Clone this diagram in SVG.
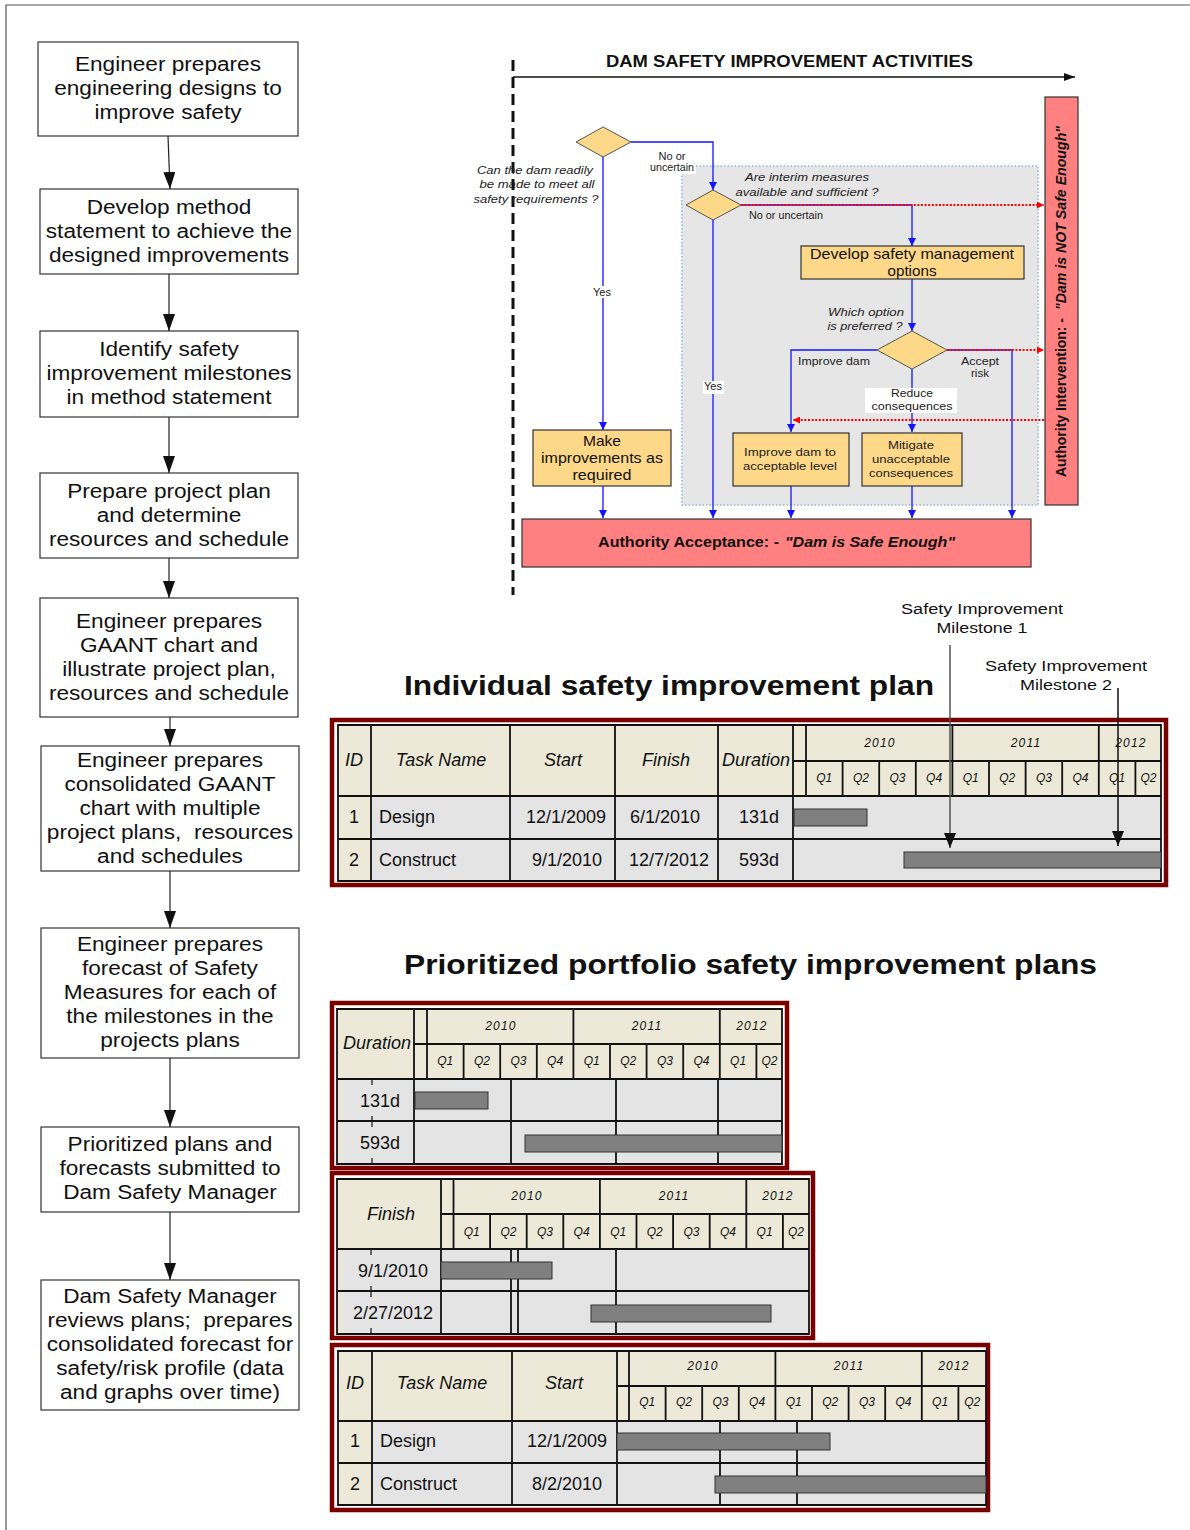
<svg xmlns="http://www.w3.org/2000/svg" width="1190" height="1530" viewBox="0 0 1190 1530">
<defs>
<style>
text { font-family: "Liberation Sans", Arial, Helvetica, sans-serif; fill: #111; }
.frame { fill: none; stroke: #555; stroke-width: 1.2; }
.step { fill: #fff; stroke: #333; stroke-width: 1.2; }
.st { font-size: 19.5px; text-anchor: middle; white-space: pre; transform-box: fill-box; transform-origin: center; transform: scaleX(1.16); }
.flow { fill: none; stroke: #222; stroke-width: 1.2; marker-end: url(#ahStep); }
.act { fill: #fdd888; stroke: #333; stroke-width: 1.2; }
.dia { fill: #fdd888; stroke: #555; stroke-width: 1; }
.auth { fill: #ff8080; stroke: #333; stroke-width: 1.2; }
.blue { fill: none; stroke: #1414ff; stroke-width: 1.3; }
.ba { marker-end: url(#ahBlue); }
.red { fill: none; stroke: #ff0000; stroke-width: 2; stroke-dasharray: 2 1.6; marker-end: url(#ahRed); }
.lbl { font-size: 10px; text-anchor: middle; fill: #222; }
.q11 { font-size: 11.5px; font-style: italic; text-anchor: middle; fill: #222; }
.bx { font-size: 14.5px; text-anchor: middle; fill: #111; }
.bs { font-size: 11.5px; text-anchor: middle; fill: #222; }
.redframe { fill: #fff; stroke: #7a0000; stroke-width: 4.5; }
.hdr { fill: #ece9d8; }
.row { fill: #e4e4e4; }
.grid { fill: none; stroke: #111; stroke-width: 1.8; }
.tick { fill: none; stroke: #111; stroke-width: 1.2; }
.bar { fill: #808080; stroke: #333; stroke-width: 1; }
.th { font-size: 18px; font-style: italic; text-anchor: middle; }
.yr { font-size: 12px; font-style: italic; text-anchor: middle; letter-spacing: 1.2px; }
.qt { font-size: 12px; font-style: italic; text-anchor: middle; }
.td { font-size: 18px; }
.tc { font-size: 18px; text-anchor: middle; }
.head { font-size: 28px; font-weight: bold; }
.mile { font-size: 15.5px; text-anchor: middle; }
</style>
<marker id="ahStep" viewBox="0 0 17 12" refX="17" refY="6" markerWidth="17" markerHeight="12" markerUnits="userSpaceOnUse" orient="auto"><path d="M0,0 L17,6 L0,12 Z" fill="#111"/></marker>
<marker id="ahBlue" viewBox="0 0 8 8" refX="8" refY="4" markerWidth="8" markerHeight="8" markerUnits="userSpaceOnUse" orient="auto"><path d="M0,0 L8,4 L0,8 Z" fill="#1414ff"/></marker>
<marker id="ahRed" viewBox="0 0 7 7" refX="7" refY="3.5" markerWidth="7" markerHeight="7" markerUnits="userSpaceOnUse" orient="auto"><path d="M0,0 L7,3.5 L0,7 Z" fill="#ff0000"/></marker>
<marker id="ahTitle" viewBox="0 0 11 8" refX="11" refY="4" markerWidth="11" markerHeight="8" markerUnits="userSpaceOnUse" orient="auto"><path d="M0,0 L11,4 L0,8 Z" fill="#111"/></marker>
<marker id="ahMile" viewBox="0 0 15 12" refX="15" refY="6" markerWidth="15" markerHeight="12" markerUnits="userSpaceOnUse" orient="auto"><path d="M0,0 L15,6 L0,12 Z" fill="#111"/></marker>
</defs>

<rect width="1190" height="1530" fill="#fff"/>
<path class="frame" d="M6,1530 V5 H1190"/>

<!-- process steps, left column -->
<g id="step1"><rect class="step" x="38" y="42" width="260" height="94"/>
<text class="st" x="168" y="71">Engineer prepares</text><text class="st" x="168" y="95">engineering designs to</text><text class="st" x="168" y="119">improve safety</text></g>
<g id="step2"><rect class="step" x="40" y="189" width="258" height="85"/>
<text class="st" x="169" y="214">Develop method</text><text class="st" x="169" y="238">statement to achieve the</text><text class="st" x="169" y="262">designed improvements</text></g>
<g id="step3"><rect class="step" x="40" y="331" width="258" height="86"/>
<text class="st" x="169" y="356">Identify safety</text><text class="st" x="169" y="380">improvement milestones</text><text class="st" x="169" y="404">in method statement</text></g>
<g id="step4"><rect class="step" x="40" y="473" width="258" height="85"/>
<text class="st" x="169" y="498">Prepare project plan</text><text class="st" x="169" y="522">and determine</text><text class="st" x="169" y="546">resources and schedule</text></g>
<g id="step5"><rect class="step" x="40" y="598" width="258" height="119"/>
<text class="st" x="169" y="628">Engineer prepares</text><text class="st" x="169" y="652">GAANT chart and</text><text class="st" x="169" y="676">illustrate project plan,</text><text class="st" x="169" y="700">resources and schedule</text></g>
<g id="step6"><rect class="step" x="41" y="746" width="258" height="125"/>
<text class="st" x="170" y="767">Engineer prepares</text><text class="st" x="170" y="791">consolidated GAANT</text><text class="st" x="170" y="815">chart with multiple</text><text class="st" x="170" y="839">project plans,  resources</text><text class="st" x="170" y="863">and schedules</text></g>
<g id="step7"><rect class="step" x="41" y="928" width="258" height="130"/>
<text class="st" x="170" y="951">Engineer prepares</text><text class="st" x="170" y="975">forecast of Safety</text><text class="st" x="170" y="999">Measures for each of</text><text class="st" x="170" y="1023">the milestones in the</text><text class="st" x="170" y="1047">projects plans</text></g>
<g id="step8"><rect class="step" x="41" y="1127" width="258" height="85"/>
<text class="st" x="170" y="1151">Prioritized plans and</text><text class="st" x="170" y="1175">forecasts submitted to</text><text class="st" x="170" y="1199">Dam Safety Manager</text></g>
<g id="step9"><rect class="step" x="41" y="1280" width="258" height="130"/>
<text class="st" x="170" y="1303">Dam Safety Manager</text><text class="st" x="170" y="1327">reviews plans;  prepares</text><text class="st" x="170" y="1351">consolidated forecast for</text><text class="st" x="170" y="1375">safety/risk profile (data</text><text class="st" x="170" y="1399">and graphs over time)</text></g>

<g id="step-connectors">
<path class="flow" d="M168,136 L170,189"/>
<path class="flow" d="M169,274 V331"/>
<path class="flow" d="M169,417 V473"/>
<path class="flow" d="M169,558 V598"/>
<path class="flow" d="M170,717 V746"/>
<path class="flow" d="M170,871 V928"/>
<path class="flow" d="M170,1058 V1127"/>
<path class="flow" d="M170,1212 V1280"/>
</g>

<!-- dam safety improvement activities -->
<g id="activities-axis">
<line x1="513" y1="60" x2="513" y2="595" stroke="#111" stroke-width="3" stroke-dasharray="11 6"/>
<text x="606" y="67" font-size="16" font-weight="bold" textLength="367" lengthAdjust="spacingAndGlyphs">DAM SAFETY IMPROVEMENT ACTIVITIES</text>
<line x1="513" y1="77" x2="1075" y2="77" stroke="#111" stroke-width="1.5" marker-end="url(#ahTitle)"/>
</g>

<rect id="interim-zone" x="682" y="166" width="356" height="339" fill="#e6e6e6" stroke="#a9c3e6" stroke-width="2" stroke-dasharray="1.5 2"/>

<g id="q-readily"><polygon class="dia" points="603,127 631,142 603,157 576,142"/>
<text class="q11" x="535" y="174" textLength="116" lengthAdjust="spacingAndGlyphs">Can the dam readily</text>
<text class="q11" x="537" y="188" textLength="115" lengthAdjust="spacingAndGlyphs">be made to meet all</text>
<text class="q11" x="536" y="203" textLength="125" lengthAdjust="spacingAndGlyphs">safety requirements ?</text></g>

<g id="q-interim"><polygon class="dia" points="713,190 741,205 713,220 686,205"/>
<text class="q11" x="807" y="181" textLength="124" lengthAdjust="spacingAndGlyphs">Are interim measures</text>
<text class="q11" x="807" y="196" textLength="143" lengthAdjust="spacingAndGlyphs">available and sufficient ?</text></g>

<g id="develop-options"><rect class="act" x="801" y="246" width="223" height="33"/>
<text class="bx" x="912" y="259" textLength="204" lengthAdjust="spacingAndGlyphs">Develop safety management</text>
<text class="bx" x="912" y="276" textLength="49" lengthAdjust="spacingAndGlyphs">options</text></g>

<g id="q-option"><polygon class="dia" points="912,331 947,350 912,369 877,350"/>
<text class="q11" x="866" y="316" textLength="76" lengthAdjust="spacingAndGlyphs">Which option</text>
<text class="q11" x="865" y="330" textLength="75" lengthAdjust="spacingAndGlyphs">is preferred ?</text></g>

<g id="make-improvements"><rect class="act" x="533" y="430" width="138" height="56"/>
<text class="bx" x="602" y="446" textLength="38" lengthAdjust="spacingAndGlyphs">Make</text>
<text class="bx" x="602" y="463" textLength="122" lengthAdjust="spacingAndGlyphs">improvements as</text>
<text class="bx" x="602" y="480" textLength="59" lengthAdjust="spacingAndGlyphs">required</text></g>

<g id="improve-dam"><rect class="act" x="733" y="433" width="116" height="53"/>
<text class="bs" x="790" y="456" textLength="92" lengthAdjust="spacingAndGlyphs">Improve dam to</text>
<text class="bs" x="790" y="470" textLength="94" lengthAdjust="spacingAndGlyphs">acceptable level</text></g>

<g id="mitigate"><rect class="act" x="862" y="433" width="100" height="53"/>
<text class="bs" x="911" y="449" textLength="46" lengthAdjust="spacingAndGlyphs">Mitigate</text>
<text class="bs" x="911" y="463" textLength="78" lengthAdjust="spacingAndGlyphs">unacceptable</text>
<text class="bs" x="911" y="477" textLength="84" lengthAdjust="spacingAndGlyphs">consequences</text></g>

<g id="authority-acceptance"><rect class="auth" x="522" y="519" width="509" height="48"/>
<text x="598" y="547" font-size="14.5" font-weight="bold" textLength="181" lengthAdjust="spacingAndGlyphs">Authority Acceptance: -</text>
<text x="785" y="547" font-size="14.5" font-weight="bold" font-style="italic" textLength="170" lengthAdjust="spacingAndGlyphs">"Dam is Safe Enough"</text></g>

<g id="authority-intervention"><rect class="auth" x="1045" y="97" width="33" height="408"/>
<text transform="translate(1066,477) rotate(-90)" font-size="14.5" font-weight="bold" textLength="159" lengthAdjust="spacingAndGlyphs">Authority Intervention: -</text>
<text transform="translate(1066,310) rotate(-90)" font-size="14.5" font-weight="bold" font-style="italic" textLength="184" lengthAdjust="spacingAndGlyphs">"Dam is NOT Safe Enough"</text></g>

<g id="activity-connectors">
<path class="blue ba" d="M631,142 H713 V190"/>
<path class="blue ba" d="M603,157 V430"/>
<path class="blue ba" d="M603,486 V518"/>
<path class="blue ba" d="M713,220 V518"/>
<path class="blue ba" d="M741,205 H912 V246"/>
<path class="blue ba" d="M912,279 V331"/>
<path class="blue ba" d="M877,350 H791 V432"/>
<path class="blue ba" d="M912,369 V432"/>
<path class="blue ba" d="M947,350 H1012 V518"/>
<path class="blue ba" d="M791,486 V518"/>
<path class="blue ba" d="M912,486 V518"/>
<path class="red" d="M741,205 H1044"/>
<path class="red" d="M947,350 H1044"/>
<path class="red" d="M1044,420 H793"/>
<rect x="648" y="163" width="48" height="11" fill="#fff"/>
<text class="lbl" x="672" y="160" textLength="27" lengthAdjust="spacingAndGlyphs">No or</text>
<text class="lbl" x="672" y="171" textLength="44" lengthAdjust="spacingAndGlyphs">uncertain</text>
<rect x="592" y="286" width="21" height="12" fill="#fff"/>
<text class="lbl" x="602" y="296" textLength="18" lengthAdjust="spacingAndGlyphs">Yes</text>
<text class="lbl" x="786" y="219" textLength="74" lengthAdjust="spacingAndGlyphs">No or uncertain</text>
<rect x="703" y="381" width="21" height="13" fill="#fff"/>
<text class="lbl" x="713" y="390" textLength="18" lengthAdjust="spacingAndGlyphs">Yes</text>
<text class="lbl" x="834" y="365" font-size="11" textLength="72" lengthAdjust="spacingAndGlyphs">Improve dam</text>
<text class="lbl" x="980" y="365" font-size="11" textLength="38" lengthAdjust="spacingAndGlyphs">Accept</text>
<text class="lbl" x="980" y="377" font-size="11" textLength="18" lengthAdjust="spacingAndGlyphs">risk</text>
<rect x="865" y="388" width="92" height="25" fill="#fff"/>
<text class="lbl" x="912" y="397" font-size="11" textLength="42" lengthAdjust="spacingAndGlyphs">Reduce</text>
<text class="lbl" x="912" y="410" font-size="11" textLength="81" lengthAdjust="spacingAndGlyphs">consequences</text>
</g>

<!-- individual plan -->
<text class="head" x="404" y="695" textLength="530" lengthAdjust="spacingAndGlyphs">Individual safety improvement plan</text>

<g id="plan-single">
<rect class="redframe" x="332" y="720" width="834" height="165"/>
<rect class="hdr" x="338" y="725" width="823" height="71"/>
<rect class="row" x="338" y="796" width="823" height="85"/>
<rect class="hdr" x="338" y="796" width="33" height="85"/>
<path class="grid" d="M338,725 H1161 V881 H338 Z M338,796 H1161 M338,839 H1161 M793,761 H1161 M371,725 V881 M510,725 V881 M615,725 V881 M718,725 V881 M793,725 V881 M806,725 V796 M952.4,725 V796 M1098.8,725 V796 M842.6,761 V796 M879.2,761 V796 M915.8,761 V796 M989,761 V796 M1025.6,761 V796 M1062.2,761 V796 M1135.4,761 V796"/>
<rect class="bar" x="794" y="809" width="73" height="17"/>
<rect class="bar" x="904" y="852" width="257" height="16"/>
<text class="th" x="354" y="766">ID</text>
<text class="th" x="441" y="766">Task Name</text>
<text class="th" x="563" y="766">Start</text>
<text class="th" x="666" y="766">Finish</text>
<text class="th" x="756" y="766">Duration</text>
<text class="yr" x="880" y="747">2010</text>
<text class="yr" x="1026" y="747">2011</text>
<text class="yr" x="1131" y="747">2012</text>
<text class="qt" x="824.3" y="782">Q1</text><text class="qt" x="860.9" y="782">Q2</text><text class="qt" x="897.5" y="782">Q3</text><text class="qt" x="934.1" y="782">Q4</text>
<text class="qt" x="970.7" y="782">Q1</text><text class="qt" x="1007.3" y="782">Q2</text><text class="qt" x="1043.9" y="782">Q3</text><text class="qt" x="1080.5" y="782">Q4</text>
<text class="qt" x="1117.1" y="782">Q1</text><text class="qt" x="1148.5" y="782">Q2</text>
<text class="tc" x="354" y="823">1</text>
<text class="td" x="379" y="823">Design</text>
<text class="tc" x="566" y="823">12/1/2009</text>
<text class="tc" x="665" y="823">6/1/2010</text>
<text class="tc" x="759" y="823">131d</text>
<text class="tc" x="354" y="866">2</text>
<text class="td" x="379" y="866">Construct</text>
<text class="tc" x="567" y="866">9/1/2010</text>
<text class="tc" x="669" y="866">12/7/2012</text>
<text class="tc" x="759" y="866">593d</text>
</g>

<g id="milestones">
<text class="mile" x="982" y="614" textLength="162" lengthAdjust="spacingAndGlyphs">Safety Improvement</text>
<text class="mile" x="982" y="633" textLength="91" lengthAdjust="spacingAndGlyphs">Milestone 1</text>
<text class="mile" x="1066" y="671" textLength="162" lengthAdjust="spacingAndGlyphs">Safety Improvement</text>
<text class="mile" x="1066" y="690" textLength="92" lengthAdjust="spacingAndGlyphs">Milestone 2</text>
<line x1="950" y1="645" x2="950" y2="848" stroke="#555" stroke-width="1.5" marker-end="url(#ahMile)"/>
<line x1="1118" y1="688" x2="1118" y2="846" stroke="#111" stroke-width="1.5" marker-end="url(#ahMile)"/>
</g>

<!-- prioritized portfolio -->
<text class="head" x="404" y="974" textLength="693" lengthAdjust="spacingAndGlyphs">Prioritized portfolio safety improvement plans</text>

<g id="portfolio-duration">
<rect class="redframe" x="332" y="1003" width="455" height="165"/>
<rect class="hdr" x="337" y="1009" width="445" height="70"/>
<rect class="row" x="337" y="1079" width="445" height="85"/>
<rect class="hdr" x="338" y="1079" width="6" height="85" opacity="0.6"/>
<path class="grid" d="M337,1009 H782 V1164 H337 Z M414,1044 H782 M337,1079 H782 M337,1121 H782 M414,1009 V1164 M427,1009 V1079 M573.4,1009 V1079 M719.8,1009 V1079 M463.6,1044 V1079 M500.2,1044 V1079 M536.8,1044 V1079 M610,1044 V1079 M646.6,1044 V1079 M683.2,1044 V1079 M756.4,1044 V1079 M511,1079 V1164 M616,1079 V1164 M718,1079 V1164"/>
<path class="tick" d="M372,1079 V1085 M372,1116 V1127 M372,1158 V1164"/>
<rect class="bar" x="415" y="1092" width="73" height="17"/>
<rect class="bar" x="525" y="1135" width="257" height="17"/>
<text class="th" x="377" y="1049">Duration</text>
<text class="yr" x="501" y="1030">2010</text>
<text class="yr" x="647" y="1030">2011</text>
<text class="yr" x="752" y="1030">2012</text>
<text class="qt" x="445.3" y="1065">Q1</text><text class="qt" x="481.9" y="1065">Q2</text><text class="qt" x="518.5" y="1065">Q3</text><text class="qt" x="555.1" y="1065">Q4</text>
<text class="qt" x="591.7" y="1065">Q1</text><text class="qt" x="628.3" y="1065">Q2</text><text class="qt" x="664.9" y="1065">Q3</text><text class="qt" x="701.5" y="1065">Q4</text>
<text class="qt" x="738.1" y="1065">Q1</text><text class="qt" x="769.5" y="1065">Q2</text>
<text class="tc" x="380" y="1107">131d</text>
<text class="tc" x="380" y="1149">593d</text>
</g>

<g id="portfolio-finish">
<rect class="redframe" x="332" y="1173" width="481" height="165"/>
<rect class="hdr" x="337" y="1179" width="472" height="70"/>
<rect class="row" x="337" y="1249" width="472" height="85"/>
<rect class="hdr" x="338" y="1249" width="6" height="85" opacity="0.6"/>
<path class="grid" d="M337,1179 H809 V1334 H337 Z M441,1214 H809 M337,1249 H809 M337,1291 H809 M441,1179 V1334 M453.5,1179 V1249 M599.9,1179 V1249 M746.3,1179 V1249 M490.1,1214 V1249 M526.7,1214 V1249 M563.3,1214 V1249 M636.5,1214 V1249 M673.1,1214 V1249 M709.7,1214 V1249 M782.9,1214 V1249 M511,1249 V1334 M518,1249 V1334 M616,1249 V1334"/>
<path class="tick" d="M371,1249 V1255 M371,1286 V1297 M371,1328 V1334"/>
<rect class="bar" x="441" y="1262" width="111" height="17"/>
<rect class="bar" x="591" y="1305" width="180" height="17"/>
<text class="th" x="391" y="1220">Finish</text>
<text class="yr" x="527" y="1200">2010</text>
<text class="yr" x="674" y="1200">2011</text>
<text class="yr" x="778" y="1200">2012</text>
<text class="qt" x="471.8" y="1236">Q1</text><text class="qt" x="508.4" y="1236">Q2</text><text class="qt" x="545" y="1236">Q3</text><text class="qt" x="581.6" y="1236">Q4</text>
<text class="qt" x="618.2" y="1236">Q1</text><text class="qt" x="654.8" y="1236">Q2</text><text class="qt" x="691.4" y="1236">Q3</text><text class="qt" x="728" y="1236">Q4</text>
<text class="qt" x="764.6" y="1236">Q1</text><text class="qt" x="796" y="1236">Q2</text>
<text class="tc" x="393" y="1277">9/1/2010</text>
<text class="tc" x="393" y="1319">2/27/2012</text>
</g>

<g id="portfolio-start">
<rect class="redframe" x="332" y="1345" width="656" height="165"/>
<rect class="hdr" x="338" y="1351" width="648" height="70"/>
<rect class="row" x="338" y="1421" width="648" height="84"/>
<rect class="hdr" x="338" y="1421" width="34" height="84"/>
<path class="grid" d="M338,1351 H986 V1505 H338 Z M617,1386 H986 M338,1421 H986 M338,1463 H986 M372,1351 V1505 M512,1351 V1505 M617,1351 V1505 M629,1351 V1421 M775.4,1351 V1421 M921.8,1351 V1421 M665.6,1386 V1421 M702.2,1386 V1421 M738.8,1386 V1421 M812,1386 V1421 M848.6,1386 V1421 M885.2,1386 V1421 M958.4,1386 V1421 M720,1421 V1505 M797,1421 V1505"/>
<rect class="bar" x="617" y="1433" width="213" height="17"/>
<rect class="bar" x="715" y="1476" width="271" height="17"/>
<text class="th" x="355" y="1389">ID</text>
<text class="th" x="442" y="1389">Task Name</text>
<text class="th" x="564" y="1389">Start</text>
<text class="yr" x="703" y="1370">2010</text>
<text class="yr" x="849" y="1370">2011</text>
<text class="yr" x="954" y="1370">2012</text>
<text class="qt" x="647.3" y="1406">Q1</text><text class="qt" x="683.9" y="1406">Q2</text><text class="qt" x="720.5" y="1406">Q3</text><text class="qt" x="757.1" y="1406">Q4</text>
<text class="qt" x="793.7" y="1406">Q1</text><text class="qt" x="830.3" y="1406">Q2</text><text class="qt" x="866.9" y="1406">Q3</text><text class="qt" x="903.5" y="1406">Q4</text>
<text class="qt" x="940.1" y="1406">Q1</text><text class="qt" x="972.2" y="1406">Q2</text>
<text class="tc" x="355" y="1447">1</text>
<text class="td" x="380" y="1447">Design</text>
<text class="tc" x="567" y="1447">12/1/2009</text>
<text class="tc" x="355" y="1490">2</text>
<text class="td" x="380" y="1490">Construct</text>
<text class="tc" x="567" y="1490">8/2/2010</text>
</g>
</svg>
